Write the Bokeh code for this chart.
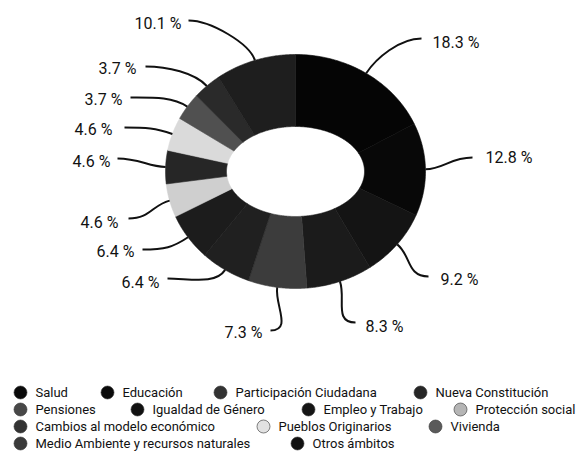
import numpy as np
from bokeh.plotting import figure
from bokeh.models import Range1d, ColumnDataSource
from bokeh.core.properties import value
from bokeh.embed import file_html
from bokeh.resources import INLINE

# ---------------- data ----------------
categories = ["Salud", "Educación", "Participación Ciudadana", "Nueva Constitución",
              "Pensiones", "Igualdad de Género", "Empleo y Trabajo", "Protección social",
              "Cambios al modelo económico", "Pueblos Originarios", "Vivienda",
              "Medio Ambiente y recursos naturales", "Otros ámbitos"]
shares = [18.3, 12.8, 9.2, 8.3, 7.3, 6.4, 6.4, 4.6, 4.6, 4.6, 3.7, 3.7, 10.1]

# ---------------- styles / layout ----------------
colors = ["#050505", "#080808", "#141414", "#1b1b1b", "#3c3c3c", "#202020", "#1c1c1c",
          "#cfcfcf", "#262626", "#dadada", "#505050", "#2a2a2a", "#1e1e1e"]
legend_colors = ["#0a0a0a", "#0a0a0a", "#333333", "#262626", "#484848", "#111111", "#151515",
                 "#b5b5b5", "#333333", "#e2e2e2", "#5a5a5a", "#3a3a3a", "#111111"]
# leader line end points (next to the label)
label_end = [(421, 38), (472, 157), (428, 276), (355, 322), (270, 330), (167, 278),
             (142, 249), (128, 218), (117, 158), (124, 127), (130, 97), (145, 66), (188, 20)]
# label text anchor (left edge for side "r", right edge for side "l")
label_pos = [(432, 42), (485, 157), (440, 279), (365, 326), (262, 332), (159, 282),
             (134, 251), (118, 222), (110, 161), (112, 129), (122, 99), (136, 68), (181, 23)]
label_side = ["r", "r", "r", "r", "l", "l", "l", "l", "l", "l", "l", "l", "l"]

# legend flow layout: rows of category indices with marker x positions
legend_rows = [[0, 1, 2, 3], [4, 5, 6, 7], [8, 9, 10], [11, 12]]
legend_x = [[20, 107, 220, 420], [20, 137, 308, 460], [20, 263, 435], [20, 297]]
legend_y0, legend_dy = 392, 17

CX, CY = 295, 171
RXO, RYO = 130, 117
RXI, RYI = 69, 45

W, H = 581, 453
p = figure(width=W, height=H, output_backend="svg", toolbar_location=None,
           x_range=Range1d(0, W), y_range=Range1d(H, 0), min_border=0)
p.axis.visible = False
p.grid.visible = False
p.outline_line_color = None

# ---------------- donut slices ----------------
total = sum(shares)
cum = np.concatenate([[0], np.cumsum(shares)]) / total * 2 * np.pi
xs, ys, mids = [], [], []
for i in range(len(shares)):
    t = np.linspace(cum[i], cum[i + 1], 60)
    xo = CX + RXO * np.sin(t)
    yo = CY - RYO * np.cos(t)
    xi = CX + RXI * np.sin(t[::-1])
    yi = CY - RYI * np.cos(t[::-1])
    xs.append(list(np.concatenate([xo, xi])))
    ys.append(list(np.concatenate([yo, yi])))
    mids.append((cum[i] + cum[i + 1]) / 2)

src = ColumnDataSource(dict(xs=xs, ys=ys, color=colors, cat=categories))
p.patches("xs", "ys", source=src, fill_color="color", line_color="color", line_width=0.6)

# ---------------- leader lines + labels ----------------
x0, y0, x1, y1, cx0, cy0, cx1, cy1 = [], [], [], [], [], [], [], []
tx_r, ty_r, tt_r, tx_l, ty_l, tt_l = [], [], [], [], [], []
for i, m in enumerate(mids):
    sx = CX + RXO * np.sin(m)
    sy = CY - RYO * np.cos(m)
    ex, ey = label_end[i]
    x0.append(sx); y0.append(sy); x1.append(ex); y1.append(ey)
    cx0.append(sx + 18 * np.sin(m)); cy0.append(sy - 18 * np.cos(m))
    dirx = -1 if label_side[i] == "r" else 1
    cx1.append(ex + dirx * 22); cy1.append(ey)
    lab = f"{shares[i]:.1f} %"
    px, py = label_pos[i]
    if label_side[i] == "r":
        tx_r.append(px); ty_r.append(py); tt_r.append(lab)
    else:
        tx_l.append(px); ty_l.append(py); tt_l.append(lab)

p.bezier(x0=x0, y0=y0, x1=x1, y1=y1, cx0=cx0, cy0=cy0, cx1=cx1, cy1=cy1,
         line_color="#111111", line_width=2)
p.text(x=tx_r, y=ty_r, text=tt_r, text_align="left", text_baseline="middle",
       text_font=value("Roboto"), text_font_size="16px", text_color="#111111")
p.text(x=tx_l, y=ty_l, text=tt_l, text_align="right", text_baseline="middle",
       text_font=value("Roboto"), text_font_size="16px", text_color="#111111")

# ---------------- legend ----------------
lx, ly, lc, tx, ty, tt = [], [], [], [], [], []
for r, row in enumerate(legend_rows):
    for j, idx in enumerate(row):
        x = legend_x[r][j]
        y = legend_y0 + r * legend_dy
        lx.append(x); ly.append(y); lc.append(legend_colors[idx])
        tx.append(x + 15); ty.append(y); tt.append(categories[idx])
p.scatter(x=lx, y=ly, marker="circle", size=13, fill_color=lc, line_color="#333333", line_width=0.6)
p.text(x=tx, y=ty, text=tt, text_align="left", text_baseline="middle",
       text_font=value("Roboto"), text_font_size="13px", text_color="#111111")

open("out.html", "w").write(file_html(p, INLINE))
